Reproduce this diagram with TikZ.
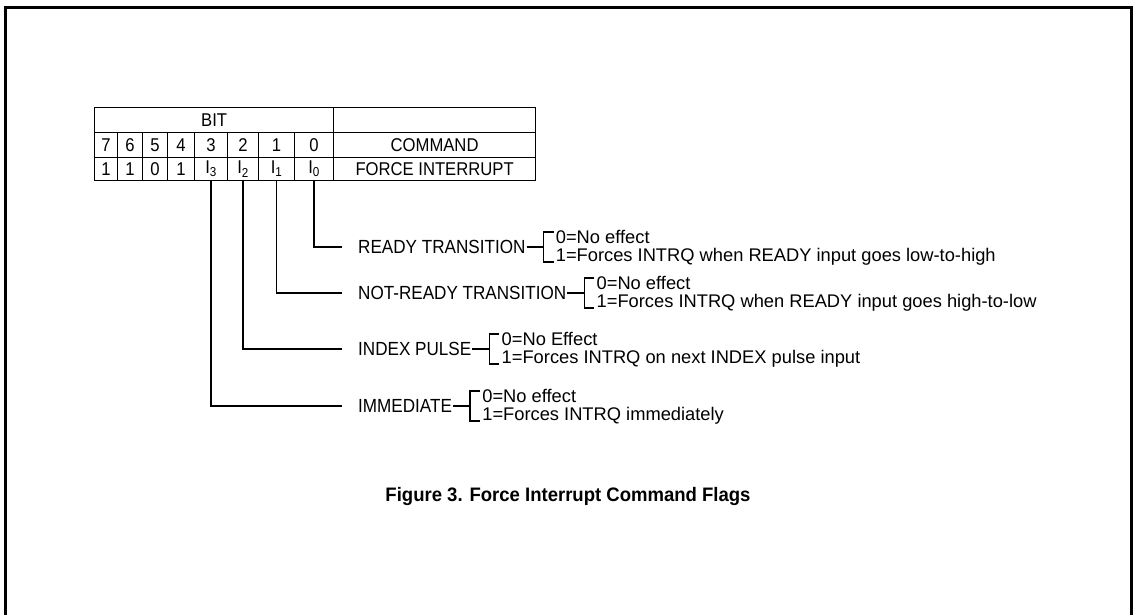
\documentclass[tikz,border=0pt]{standalone}
\usepackage{fontspec}
\setmainfont{Liberation Sans}
\newfontfamily\condfont[FakeStretch=0.9]{Liberation Sans}
\newfontfamily\titlefont[FakeStretch=0.95]{Liberation Sans}
\begin{document}
\begin{tikzpicture}[x=1pt,y=-1pt,
  cell/.style={draw, line width=1.2pt, inner sep=0pt, anchor=north west, font=\condfont\fontsize{18.5}{18.5}\selectfont},
  lbl/.style={anchor=west, inner sep=0pt, font=\condfont\fontsize{19}{19}\selectfont},
  val/.style={anchor=west, inner sep=0pt, font=\fontsize{18.3}{18.3}\selectfont},
  lead/.style={line width=1.3pt},
  frame/.style={line width=3pt}
]
\useasboundingbox (0,0) rectangle (1134,614);
\draw[frame] (5,625) -- (5,7) -- (1131.5,7) -- (1131.5,625);

% row 1
\node[cell, minimum width=239pt, minimum height=25pt] (bit) at (94,107) {BIT};
\node[cell, minimum width=202pt, minimum height=25pt] (hdr) at (333,107) {};
% row 2
\node[cell, minimum width=23pt, minimum height=25pt] (n7) at (94,132) {7};
\node[cell, minimum width=25pt, minimum height=25pt] (n6) at (117,132) {6};
\node[cell, minimum width=25pt, minimum height=25pt] (n5) at (142,132) {5};
\node[cell, minimum width=27pt, minimum height=25pt] (n4) at (167,132) {4};
\node[cell, minimum width=33pt, minimum height=25pt] (n3) at (194,132) {3};
\node[cell, minimum width=31pt, minimum height=25pt] (n2) at (227,132) {2};
\node[cell, minimum width=36pt, minimum height=25pt] (n1) at (258,132) {1};
\node[cell, minimum width=39pt, minimum height=25pt] (n0) at (294,132) {0};
\node[cell, minimum width=202pt, minimum height=25pt] (cmd) at (333,132) {COMMAND};
% row 3
\node[cell, minimum width=23pt, minimum height=23pt] (v7) at (94,157) {1};
\node[cell, minimum width=25pt, minimum height=23pt] (v6) at (117,157) {1};
\node[cell, minimum width=25pt, minimum height=23pt] (v5) at (142,157) {0};
\node[cell, minimum width=27pt, minimum height=23pt] (v4) at (167,157) {1};
\node[cell, minimum width=33pt, minimum height=23pt] (c3) at (194,157) {I\textsubscript{3}};
\node[cell, minimum width=31pt, minimum height=23pt] (c2) at (227,157) {I\textsubscript{2}};
\node[cell, minimum width=36pt, minimum height=23pt] (c1) at (258,157) {I\textsubscript{1}};
\node[cell, minimum width=39pt, minimum height=23pt] (c0) at (294,157) {I\textsubscript{0}};
\node[cell, minimum width=202pt, minimum height=23pt] (fi) at (333,157) {FORCE INTERRUPT};

% labels
\node[lbl] (l0) at (358,247) {READY TRANSITION};
\node[lbl] (l1) at (358,293) {NOT-READY TRANSITION};
\node[lbl] (l2) at (358,349) {INDEX PULSE};
\node[lbl] (l3) at (358,406) {IMMEDIATE};

% leaders
\draw[lead] (c0.south) |- ([xshift=-16pt]l0.west);
\draw[lead] (c1.south) |- ([xshift=-16pt]l1.west);
\draw[lead] (c2.south) |- ([xshift=-16pt]l2.west);
\draw[lead] (c3.south) |- ([xshift=-16pt]l3.west);

% brackets
\foreach \i in {0,1,2,3}{
  \coordinate (b\i) at ([xshift=18pt]l\i.east);
  \draw[lead] ([xshift=1pt]l\i.east) -- (b\i);
  \draw[lead] ([xshift=10pt,yshift=15pt]b\i) -- ([yshift=15pt]b\i) -- ([yshift=-15pt]b\i) -- ([xshift=10pt,yshift=-15pt]b\i);
}

\node[val] (a0) at ([xshift=12pt,yshift=10.5pt]b0) {0=No effect};
\node[val] (z0) at ([xshift=12pt,yshift=-9.5pt]b0) {1=Forces INTRQ when READY input goes low-to-high};
\node[val] (a1) at ([xshift=12pt,yshift=10.5pt]b1) {0=No effect};
\node[val] (z1) at ([xshift=12pt,yshift=-9.5pt]b1) {1=Forces INTRQ when READY input goes high-to-low};
\node[val] (a2) at ([xshift=12pt,yshift=10.5pt]b2) {0=No Effect};
\node[val] (z2) at ([xshift=12pt,yshift=-9.5pt]b2) {1=Forces INTRQ on next INDEX pulse input};
\node[val] (a3) at ([xshift=12pt,yshift=10.5pt]b3) {0=No effect};
\node[val] (z3) at ([xshift=12pt,yshift=-9.5pt]b3) {1=Forces INTRQ immediately};

\node[font=\titlefont\bfseries\fontsize{19.5}{19.5}\selectfont] (title) at (568,496) {Figure 3. Force Interrupt Command Flags};
\end{tikzpicture}
\end{document}
